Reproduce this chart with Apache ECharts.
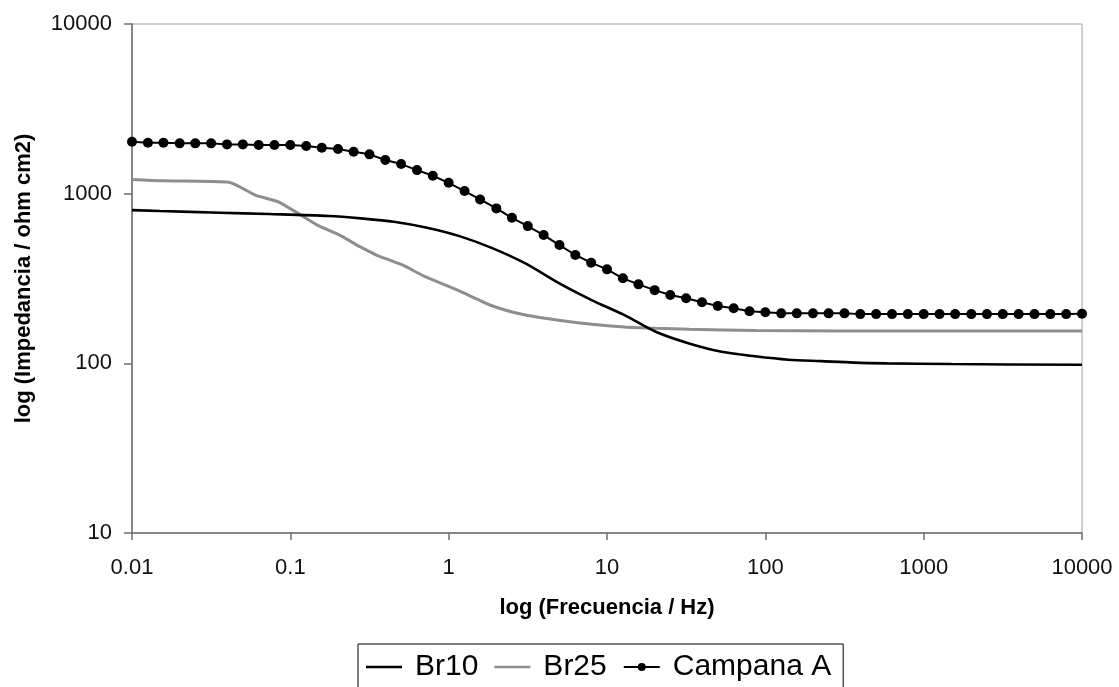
<!DOCTYPE html>
<html>
<head>
<meta charset="utf-8">
<title>Impedancia vs Frecuencia</title>
<script src="https://cdn.jsdelivr.net/npm/echarts@6/dist/echarts.min.js"></script>
<style>
  html, body { margin: 0; padding: 0; background: #ffffff; }
  #chart { width: 1119px; height: 687px; }
</style>
</head>
<body>
<div id="chart"></div>
<script>
// Bode modulus: impedance (ohm cm2) against frequency (Hz), both on log scales.

// Campana A: measured at 10 frequencies per decade
const campanaFreq = [
  0.01, 0.0126, 0.0158, 0.02, 0.0251, 0.0316, 0.0398, 0.0501, 0.0631, 0.0794,
  0.1, 0.126, 0.158, 0.2, 0.251, 0.316, 0.398, 0.501, 0.631, 0.794,
  1, 1.26, 1.58, 2, 2.51, 3.16, 3.98, 5.01, 6.31, 7.94,
  10, 12.6, 15.8, 20, 25.1, 31.6, 39.8, 50.1, 63.1, 79.4,
  100, 126, 158, 200, 251, 316, 398, 501, 631, 794,
  1000, 1260, 1580, 2000, 2510, 3160, 3980, 5010, 6310, 7940,
  10000
];
const campanaZ = [
  2023, 1995, 1995, 1979, 1979, 1979, 1952, 1952, 1934, 1934,
  1934, 1908, 1865, 1832, 1766, 1705, 1578, 1494, 1377, 1275,
  1159, 1036, 925, 819, 721, 644, 570, 498, 435, 392,
  358, 317, 292, 270, 253, 242, 229, 218, 211, 203,
  200, 197, 197, 197, 197, 197, 195, 195, 195, 195,
  195, 195, 195, 195, 195, 195, 195, 195, 195, 195,
  196
];

// Br10
const br10Freq = [0.01, 0.015, 0.036, 0.073, 0.175, 0.28, 0.45, 0.73, 1.17, 1.9, 3.05,
  5.0, 8.0, 12.8, 20.5, 33, 53, 86, 140, 225, 365, 590, 1500, 10000];
const br10Z = [800, 790, 772, 759, 739, 715, 683, 630, 562, 476, 388,
  296, 236, 193, 153, 131, 117, 110, 105, 103, 101, 100, 99, 98];

// Br25
const br25Freq = [0.01, 0.0155, 0.041, 0.06, 0.084, 0.112, 0.148, 0.205, 0.275, 0.35, 0.51,
  0.71, 1.14, 1.84, 2.9, 4.8, 8.0, 12.8, 20.5, 33, 88, 1000, 10000];
const br25Z = [1214, 1191, 1166, 981, 896, 765, 653, 570, 487, 435, 380,
  324, 270, 220, 194.5, 180, 170, 164, 161, 159, 156, 155, 155];

// Axis ranges
const xMin = 0.01, xMax = 10000;
const yMin = 10, yMax = 10000;

const pairs = (xs, ys) => xs.map((x, i) => [x, ys[i]]);
const FONT = 'Liberation Sans, Arial, sans-serif';

const fmt = v => v < 1 ? String(+v.toPrecision(1)) : String(Math.round(v));

// plain line swatch for the legend entries without markers
const LINE_ICON = 'path://M0,0H40V3H0Z';

const chart = echarts.init(document.getElementById('chart'), null, { renderer: 'canvas' });
chart.setOption({
  backgroundColor: '#ffffff',
  animation: false,
  grid: {
    left: 132, right: 37, top: 24, bottom: 154,
    show: true, borderColor: '#a0a0a0', borderWidth: 1, backgroundColor: 'transparent'
  },
  legend: {
    data: [
      { name: 'Br10', icon: LINE_ICON },
      { name: 'Br25', icon: LINE_ICON },
      { name: 'Campana A' }
    ],
    left: 358,
    top: 644,
    padding: [8, 12, 8, 8],
    borderColor: '#000', borderWidth: 1,
    itemWidth: 36, itemHeight: 10, itemGap: 16,
    textStyle: { fontFamily: FONT, fontSize: 30, color: '#000', padding: [0, 0, 0, 8] }
  },
  xAxis: {
    type: 'log', logBase: 10, min: xMin, max: xMax,
    name: 'log (Frecuencia / Hz)', nameLocation: 'middle', nameGap: 64,
    nameTextStyle: { fontFamily: FONT, fontSize: 22, fontWeight: 'bold', color: '#000' },
    axisLine: { show: true, onZero: false, lineStyle: { color: '#6e6e6e', width: 1.5 } },
    axisTick: { show: true, inside: false, length: 7, lineStyle: { color: '#6e6e6e', width: 1.5 } },
    axisLabel: { margin: 24, fontFamily: FONT, fontSize: 22, color: '#111', formatter: fmt },
    splitLine: { show: false },
    minorTick: { show: false }
  },
  yAxis: {
    type: 'log', logBase: 10, min: yMin, max: yMax,
    name: 'log (Impedancia / ohm cm2)', nameLocation: 'middle', nameGap: 97, nameRotate: 90,
    nameTextStyle: { fontFamily: FONT, fontSize: 22, fontWeight: 'bold', color: '#000' },
    axisLine: { show: true, onZero: false, lineStyle: { color: '#6e6e6e', width: 1.5 } },
    axisTick: { show: true, inside: false, length: 8, lineStyle: { color: '#6e6e6e', width: 1.5 } },
    axisLabel: { margin: 20, fontFamily: FONT, fontSize: 22, color: '#111', formatter: fmt },
    splitLine: { show: false }
  },
  series: [
    {
      name: 'Br10', type: 'line', data: pairs(br10Freq, br10Z),
      smooth: 0.3, showSymbol: false, symbol: 'none',
      lineStyle: { color: '#000000', width: 2.6 },
      itemStyle: { color: '#000000' }, z: 3
    },
    {
      name: 'Br25', type: 'line', data: pairs(br25Freq, br25Z),
      smooth: 0.2, showSymbol: false, symbol: 'none',
      lineStyle: { color: '#8e8e8e', width: 3 },
      itemStyle: { color: '#8e8e8e' }, z: 2
    },
    {
      name: 'Campana A', type: 'line', data: pairs(campanaFreq, campanaZ),
      symbol: 'circle', symbolSize: 10, showAllSymbol: true,
      lineStyle: { color: '#000000', width: 2 },
      itemStyle: { color: '#000000' }, z: 4
    }
  ]
});
</script>
</body>
</html>
